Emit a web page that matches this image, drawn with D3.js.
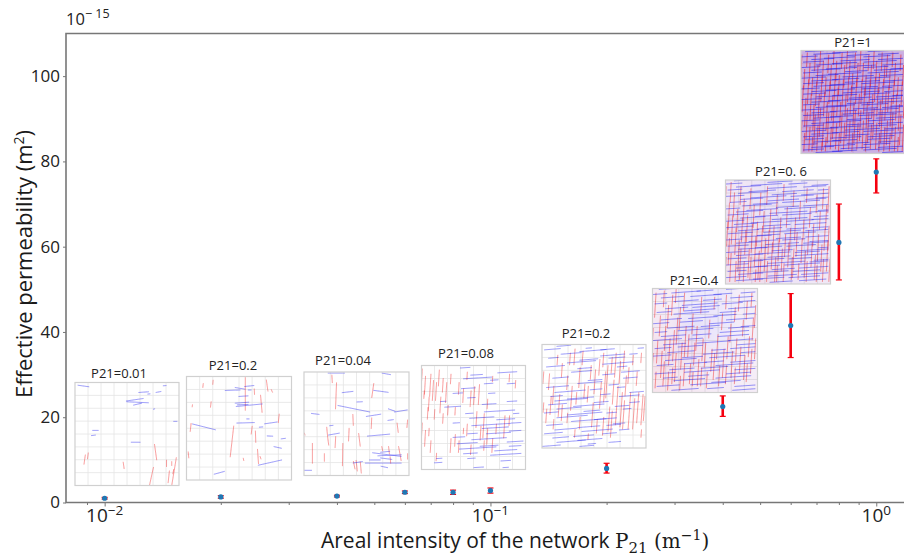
<!DOCTYPE html>
<html>
<head>
<meta charset="utf-8">
<script src="https://cdnjs.cloudflare.com/ajax/libs/d3/7.8.5/d3.min.js"></script>
<style>
  body { margin: 0; background: #fff; }
  svg { display: block; font-family: "Open Sans", "Noto Sans", sans-serif; }
  .spine { stroke: #777; stroke-width: 1.6; fill: none; }
  .axis path { display: none; }
  .axis line { stroke: #777; }
  .axis text { font-size: 17px; fill: #222; font-family: "Open Sans", sans-serif; }
  .title { font-size: 22px; fill: #1a1a1a; }
  .serif { font-family: "DejaVu Serif", serif; }
  .inset-label { font-size: 13px; fill: #222; text-anchor: middle; }
</style>
</head>
<body>
<svg id="chart"></svg>
<script>
// effective permeability, in units of 1e-15 m2
const p21 = [0.01, 0.02, 0.04, 0.06, 0.08, 0.1, 0.2, 0.4, 0.6, 0.8, 1];
const kMean = [1.0, 1.3, 1.5, 2.4, 2.4, 2.8, 8, 22.5, 41.5, 61, 77.5];
const kLow = [0.8, 1.0, 1.3, 2.1, 1.9, 2.2, 6.9, 20.2, 34, 52.2, 72.6];
const kHigh = [1.2, 1.6, 1.7, 2.7, 2.9, 3.4, 9.2, 25, 49, 70, 80.6];

const yTicks = [0, 20, 40, 60, 80, 100];
const xMajor = [0.01, 0.1, 1];
const xMinor = [0.009, 0.02, 0.03, 0.04, 0.05, 0.06, 0.07, 0.08, 0.09, 0.2, 0.3, 0.4, 0.5, 0.6, 0.7, 0.8, 0.9];
const gridTicks = [12.5, 25, 37.5, 50, 62.5, 75, 87.5];

const insetLabels = ["P21=0.01", "P21=0.2", "P21=0.04", "P21=0.08", "P21=0.2", "P21=0.4", "P21=0. 6", "P21=1"];

// sparse networks, read segment by segment: [x1, y1, x2, y2] in inset units 0-100
const blue1 = [[2.5,2.6,13.7,4.2],[61,9.7,71,9],[77.6,9.7,83,8.7],[84.5,3.2,88,3],[69.6,11.3,72.5,11],[49,18,66,15.5],[49.5,18.7,71,19.7],[56,22,64.5,20],[75,26,77,25.5],[94.5,37.7,98.4,37.7],[16.6,46.5,22.7,46.5],[15.4,51.6,20,51],[53.7,58,63,58]];
const red1 = [[10,70,8.6,79.7],[12.8,68,12,74.5],[46.3,77,47.3,84],[76.4,59.7,78.6,75.5],[75.5,82,71.6,100],[88,75,88,82],[93,76.5,93,81],[97.5,72.6,93,100],[90.8,85.5,89.5,97.7],[95,84,94,89]];
const blue2 = [[5.4,45.8,28,51.6],[26,94.5,36.5,91.6],[68,85.8,91,80.6],[83,67.7,90.8,69.4],[89.8,60.3,94.6,59.7],[76.5,57.4,82.5,57.7],[69,49,73,48.7],[74,45.8,86.7,43.9],[47.6,45,65,44.5],[57,41,60,41],[47,29,72.5,26.5],[46,25.8,59.7,24.8],[48,27.4,59,27],[49.5,19.3,59,18.7],[36.5,13.5,51.4,13],[46,10.6,56,12.3],[55,9.7,64.5,8.7],[58.4,13,62,13]];
const red2 = [[56,0.6,56,33],[16,6.5,15.5,11],[25.4,3.2,25,8],[5.7,27,5.4,29.7],[23.5,24,22.8,30],[4.4,45,3.5,53.5],[1.6,72.5,2.2,79],[45,47.5,41.6,78],[54,78.6,54.6,81.6],[62.6,47.7,61.6,56],[65.6,52.3,66,64],[67.6,70,68.6,84.5],[70,77,71,80],[88.3,36,87.4,45],[70.5,17.7,72,35],[76,3,77.6,14.5],[80.6,12.3,82,15.5],[64.5,11.6,64.8,17.7]];
const blue3 = [[22.6,1,39,1],[74,1,82.8,2.6],[36,20,47,18.7],[66,17.7,80.5,19.7],[50,29,56,28.7],[32,32.3,63,38.7],[6.7,40,14.7,41],[59,43,73.5,40.7],[80,35.5,87,38],[86,38.7,98.7,36.6],[79.6,46.8,85.4,46],[23,61,34,59],[60,62,82,60],[0,95,7.6,95],[65,78,93,81.6],[72.6,77.6,82,76.6],[70,81,93,80],[58,88,93,88],[72.6,83,84,84.5],[46.5,88,56,86.5],[62,85,73,85],[24,52,28,51.5],[73,91,80,92.5]];
const red3 = [[26.5,2.6,27,10.7],[31,10,30,36],[66.5,10.7,64.5,25],[46.5,40.7,47,52],[64.5,44,64,55],[21.6,53,22.6,63.5],[22.6,63.5,23.6,71],[30.2,62,29.6,73.5],[43,54,42.4,67],[52,59,53.6,72],[8,68.6,8,88.6],[19.4,78.6,19.4,86.6],[37,68.6,36.6,91],[88.6,49,89.8,58.7],[98.7,46,98,54],[98.7,78.6,98.7,84.5],[80.5,71.6,81.4,79.6],[90,71.6,92.6,86],[49.6,85,50.8,96],[53.6,86.6,54.6,98],[47,86,48.6,94],[0.3,58.7,1,61.3],[74,71.6,75,76.5],[82,81.6,82.6,88.6]];

// dense networks, estimated row by row: [y, x, length, x, length, ...] for blue
// and column by column: [x, y, length, y, length, ...] for red
const blueRows4 = [
  [2.4, 37,10],[7.1, 73,19],[9.3, 47,12],[12.8, 40,28],[14.2, 66,8],[17.6, 82,8, 60,9],[22.3, 38,14],[26.9, 30,10, 64,7],[31.2, 44,8],
  [34.7, 18,6, 82,10],[37.5, 58,14],[40.1, 22,16],[44.6, 60,30],[46.3, 42,8, 88,6],[50.8, 46,24],[52.2, 72,18],[55.4, 30,7, 86,10],[57.9, 48,38],
  [60.6, 58,26],[63.1, 84,12],[65.7, 44,10, 62,24],[69.2, 30,12],[71.4, 48,34],[73.6, 82,16],[75.3, 34,20],[77.7, 56,18, 84,12],[80.4, 36,36],
  [82.1, 70,22],[84.9, 40,14],[86.3, 66,30],[89.5, 14,6, 44,8],[91.8, 76,10],[93.6, 12,8],[98.2, 50,10, 78,6]];
const redCols4 = [
  [0.8, 3,12, 55,14],[2.7, 24,8],[3.9, 10,18, 62,16],[6.3, 40,12],[7.4, 30,14, 60,8],[9.1, 8,22, 72,12],[11.6, 14,20],[12.8, 42,10],[14.5, 16,18, 84,8],
  [17.2, 4,16],[18.6, 30,16],[20.9, 12,14, 46,10],[24.3, 16,20],[25.7, 38,10],[28.4, 8,10, 70,14],[32.6, 40,8, 66,12],[36.2, 16,12, 72,12],
  [40.5, 22,14, 60,6],[44.1, 6,8, 56,12],[47.7, 24,16, 76,10],[51.2, 20,18],[53.3, 44,16],[55.8, 18,20],[57.2, 58,14],[60.4, 46,24, 72,10],
  [63.7, 32,10, 60,16],[68.5, 10,6, 70,14],[72.1, 56,10],[80.3, 48,22],[84.7, 8,8, 48,10],[90.6, 14,8]];

const blueRows5 = [
  [1.8, 14,14],[3.7, 42,6, 92,6],[5.2, 2,16, 56,14],[6.9, 36,26],[9.4, 18,20, 84,8],[11.1, 56,24],[13.3, 6,10, 64,16],[15.2, 36,18],[17.8, 24,28],[19.1, 58,30],
  [21.7, 4,18, 72,10],[23.4, 34,14],[26.8, 28,20, 76,18],[29.3, 58,12],[32.6, 10,16, 78,14],[34.9, 44,14],[37.7, 34,24],[39.2, 64,10],[41.6, 4,22, 72,8],[43.8, 46,12],
  [46.4, 12,30, 84,14],[48.5, 56,10],[50.3, 8,12, 74,20],[52.7, 24,26],[54.6, 12,32],[56.1, 50,14, 84,10],[58.3, 6,18],[59.9, 30,30, 70,14],[62.4, 14,24, 78,8],[64.7, 40,16],
  [66.2, 2,14, 62,10],[68.1, 24,34],[70.8, 14,30],[72.6, 50,22],[74.4, 28,34],[76.7, 68,12],[78.2, 4,16, 62,14],[80.3, 34,22],[82.6, 12,22, 74,10],[84.1, 38,30],
  [86.3, 2,18, 58,14],[88.9, 30,20],[90.4, 10,16],[92.7, 34,24],[94.6, 14,28, 64,12],[96.2, 44,8],[98.5, 0,18, 36,14]];
const redCols5 = [
  [1.7, 26,12, 56,10],[4.6, 62,14],[7.3, 28,16],[8.9, 50,18],[11.4, 40,18, 72,10],[15.2, 10,10],[17.1, 48,22],[19.6, 18,14, 58,16],[24.7, 30,14, 66,10],
  [27.3, 8,12],[29.1, 40,24],[31.8, 4,16, 82,8],[33.4, 46,12],[36.7, 22,20, 70,12],[39.5, 6,14],[41.2, 38,14],[44.6, 40,16, 86,6],[47.4, 20,14],[49.3, 56,24],
  [51.6, 24,24],[53.2, 72,14],[55.7, 14,16],[57.1, 36,26],[59.4, 8,14, 70,18],[61.3, 26,30],[63.5, 20,32],[65.2, 60,24],[67.6, 12,16, 64,26],[69.3, 34,24],
  [71.4, 8,24],[73.2, 40,38],[75.6, 16,22],[77.3, 46,34],[79.4, 6,18, 54,28],[81.2, 30,20],[83.7, 22,16],[85.3, 46,36],[87.8, 10,10],[89.2, 52,30],[91.6, 26,14],[93.1, 46,30],[95.7, 8,10, 82,8],[97.2, 48,30],[99.1, 50,24]];

const blueRows6 = [
  [0.9, 6,18, 70,24],[2.6, 42,16],[4.3, 18,28, 84,14],[5.8, 0,14, 58,18],[7.7, 36,30],[9.1, 8,22, 74,22],[11.4, 48,18],[12.6, 20,24, 82,16],[14.8, 2,12, 66,20],[16.3, 28,34],
  [18.2, 38,26],[19.5, 12,22, 72,26],[21.6, 30,30],[23.1, 4,14, 64,16],[24.7, 20,34, 86,12],[26.4, 58,22],[28.9, 34,28],[30.2, 8,20, 70,26],[32.4, 26,22],[33.9, 0,16, 54,24],
  [36.6, 46,18, 84,14],[38.1, 14,26, 72,20],[40.7, 24,34],[42.3, 2,12, 64,28],[44.8, 38,18],[46.2, 8,24, 62,30],[48.7, 34,14],[50.1, 0,28, 72,24],[52.6, 42,32],[54.2, 10,22, 80,18],
  [56.3, 24,24],[57.8, 2,16, 74,24],[59.4, 56,14],[61.7, 14,26, 84,14],[63.2, 48,30],[65.1, 0,18],[66.6, 28,20, 54,34],[69.3, 12,30],[70.9, 50,18, 74,24],[72.4, 30,22],
  [74.1, 4,16, 60,36],[76.7, 46,26],[78.2, 16,24, 78,20],[80.6, 30,34],[82.1, 2,20, 70,24],[84.4, 34,20],[86.2, 10,14, 60,34],[88.7, 20,30],[90.3, 56,28],[92.6, 36,34],[94.2, 4,22, 78,20],[96.3, 52,16],[97.9, 18,26, 76,22]];
const redCols6 = [
  [0.7, 38,20, 62,24],[3.4, 4,24, 80,16],[5.1, 50,22],[7.6, 26,20],[9.2, 60,26],[11.3, 2,16, 70,24],[12.7, 36,24],[15.4, 16,22, 80,18],[16.8, 48,26],[19.3, 6,20, 76,16],
  [20.9, 40,30],[22.6, 0,14, 62,28],[24.1, 28,26],[26.7, 18,22, 84,14],[28.3, 52,26],[30.6, 4,18, 72,22],[32.1, 36,30],[34.8, 44,22],[36.3, 72,20],[38.7, 24,20, 80,14],
  [40.4, 52,22],[42.6, 36,24],[44.2, 68,26],[46.9, 8,16, 76,18],[48.3, 48,22],[50.7, 52,24],[52.2, 80,16],[54.6, 30,18],[56.8, 58,22],[59.3, 8,12, 62,26],[62.4, 44,24],
  [64.1, 74,20],[66.7, 24,16],[68.2, 58,28],[70.5, 6,14, 74,18],[72.1, 46,22],[74.8, 34,18],[76.3, 60,26],[78.9, 18,14, 76,16],[80.4, 48,22],[82.7, 6,16],[84.2, 56,26],
  [86.6, 30,16],[88.1, 64,24],[90.3, 12,18, 72,18],[92.4, 46,20],[94.7, 4,14, 58,24],[96.2, 28,22],[98.3, 16,22, 48,20]];

const blueRows7 = [
  [0.8, 8,22, 72,24],[2.3, 40,24],[3.9, 0,16, 60,18],[5.2, 24,30, 82,16],[6.8, 10,24, 74,22],[8.1, 40,28],[9.7, 2,14, 88,10],[11.2, 22,26, 54,30],[12.9, 12,28],[14.3, 44,24, 72,26],
  [15.8, 0,18, 62,22],[17.2, 24,34, 86,12],[18.7, 14,22, 76,20],[20.1, 40,30],[21.6, 4,16, 54,36],[23.3, 26,24],[24.9, 16,28, 74,24],[26.4, 48,22],[27.8, 0,14, 56,30],[29.3, 20,30, 88,10],
  [30.8, 10,26, 80,18],[32.1, 42,36],[33.7, 2,20, 54,28],[35.2, 28,22, 84,14],[36.6, 14,24],[38.1, 44,34, 82,16],[39.7, 0,18, 58,26],[41.3, 24,30],[42.8, 8,22, 66,30],[44.2, 36,26],
  [45.9, 0,26, 82,16],[47.2, 30,24, 58,20],[48.8, 12,20, 76,22],[50.3, 36,36],[51.7, 2,24, 56,30],[53.4, 30,22],[54.8, 14,30, 76,22],[56.3, 48,24],[57.7, 0,16, 54,22],[59.2, 22,28, 80,18],
  [60.8, 10,24, 74,24],[62.1, 38,32],[63.7, 2,20, 58,28],[65.2, 28,26, 88,10],[66.6, 12,28],[68.1, 44,20, 68,30],[69.8, 0,22, 66,24],[71.2, 28,34],[72.7, 10,26, 66,32],[74.3, 40,22],
  [75.9, 2,18, 60,22],[77.2, 26,30, 84,14],[78.8, 12,24, 80,18],[80.2, 40,36],[81.8, 0,22, 56,34],[83.3, 28,24],[84.7, 10,30, 70,28],[86.2, 44,22],[87.9, 2,18, 64,26],[89.3, 26,34],
  [90.8, 12,24, 72,26],[92.4, 40,28],[93.9, 0,20, 60,30],[95.3, 26,30],[96.8, 10,26, 70,26],[98.4, 42,22]];
const redCols7 = [
  [0.6, 6,24, 74,22],[2.2, 40,24],[3.8, 22,26, 56,26],[5.4, 2,20, 70,28],[6.9, 34,28],[8.6, 12,24],[10.1, 46,26, 78,20],[11.7, 28,22],[13.2, 58,30],[14.8, 6,18, 66,30],
  [16.3, 36,24],[17.9, 18,24, 78,20],[19.4, 48,24],[21.1, 34,26],[22.7, 66,28],[24.3, 8,20, 74,22],[25.8, 42,28],[27.4, 24,22],[28.9, 54,30, 86,12],[30.6, 40,24],
  [32.2, 68,28],[33.7, 12,22, 76,22],[35.3, 44,26],[36.8, 30,20],[38.4, 56,32],[40.1, 6,18, 78,20],[41.6, 48,24],[43.2, 28,22],[44.8, 60,26],[46.3, 44,26],
  [47.9, 74,24],[49.4, 14,20, 82,16],[51.1, 56,22],[52.7, 36,24],[54.2, 66,22],[55.8, 4,16, 80,18],[57.3, 52,22],[58.9, 26,20],[60.4, 60,24],[62.1, 46,22],
  [63.7, 74,22],[65.2, 10,16, 66,28],[66.8, 36,22],[68.3, 50,24],[69.9, 80,16],[71.4, 20,18],[73.1, 56,24],[74.7, 38,20],[76.2, 68,26],[77.8, 8,14, 78,20],
  [79.3, 48,24],[80.9, 26,20],[82.6, 60,24],[84.1, 42,22],[85.7, 72,24],[87.2, 14,18, 82,16],[88.8, 52,26],[90.3, 30,18],[91.9, 62,26],[93.4, 8,20, 76,22],
  [94.9, 46,22],[96.4, 24,24],[97.6, 58,30],[98.7, 6,26, 44,24],[99.5, 76,22]];

const blueRows8 = [
  [1.1, 4,18, 64,22],[2.4, 30,24],[3.7, 12,26, 74,20],[4.9, 44,22],[6.2, 0,16, 60,26],[7.6, 22,30],[8.8, 10,22, 74,24],[10.1, 38,28],[11.3, 2,20, 60,32],[12.7, 30,24],
  [14.1, 14,26, 78,20],[15.4, 46,26],[16.6, 0,18, 60,24],[17.9, 24,30, 86,12],[19.2, 10,28, 70,28],[20.6, 42,22],[21.8, 2,18, 64,30],[23.1, 26,32],[24.4, 14,22, 76,22],[25.7, 40,30],
  [26.9, 0,24, 62,24],[28.3, 30,26],[29.6, 10,26, 80,18],[30.9, 42,34],[32.2, 2,20, 58,32],[33.4, 28,24],[34.8, 12,30, 78,20],[36.1, 48,26],[37.3, 0,18, 58,30],[38.6, 24,28],
  [39.9, 10,24, 80,18],[41.2, 40,36],[42.4, 2,22, 60,26],[43.8, 30,24, 88,10],[45.1, 14,26, 72,26],[46.3, 46,22],[47.7, 0,20, 66,30],[48.9, 26,34],[50.2, 10,28, 74,24],[51.6, 44,26],
  [52.8, 2,16, 58,26],[54.1, 24,28, 86,12],[55.4, 14,30, 78,20],[56.7, 50,24],[57.9, 0,22, 60,34],[59.3, 28,26],[60.6, 10,24, 74,24],[61.8, 40,30],[63.2, 2,20, 56,36],[64.4, 28,22],
  [65.7, 12,26, 72,26],[67.1, 44,24],[68.3, 0,18, 64,26],[69.6, 24,34],[70.9, 10,28, 74,24],[72.2, 44,26],[73.4, 2,20, 64,28],[74.8, 28,30],[76.1, 14,22, 80,18],[77.3, 42,34],
  [78.6, 0,24, 60,30],[79.9, 30,26],[81.2, 10,26, 70,28],[82.4, 42,24],[83.8, 2,20, 64,26],[85.1, 28,30],[86.3, 4,18, 64,22],[87.6, 30,24],[88.9, 12,26, 74,20],[90.2, 44,22],
  [91.4, 0,16, 60,26],[92.8, 22,30],[94.1, 10,22, 74,24],[95.3, 38,28],[96.6, 2,20, 60,32],[97.9, 30,24],[99.1, 14,26, 78,20]];
const redCols8 = [
  [0.9, 4,22, 68,24],[2.3, 34,26],[3.6, 18,20, 80,18],[4.8, 46,28],[6.1, 2,14, 60,26],[7.4, 28,24],[8.7, 12,22, 74,24],[9.9, 42,26],[11.2, 26,18, 84,14],[12.6, 52,26],
  [13.8, 4,16, 62,30],[15.1, 30,24],[16.4, 14,20, 72,26],[17.7, 42,24],[18.9, 0,16, 56,28],[20.3, 24,26, 88,10],[21.6, 10,22, 70,24],[22.8, 40,24],[24.1, 26,18, 84,14],[25.4, 50,28],
  [26.7, 4,18, 60,30],[27.9, 30,22],[29.2, 14,24, 74,22],[30.6, 44,24],[31.8, 0,14, 54,32],[33.1, 22,26],[34.4, 10,20, 70,26],[35.7, 36,28],[36.9, 24,20, 80,18],[38.3, 50,24],
  [39.6, 2,16, 60,30],[40.8, 28,26],[42.1, 14,22, 70,26],[43.4, 42,22],[44.7, 0,18, 56,30],[45.9, 26,24],[47.2, 10,18, 68,28],[48.6, 34,28],[49.8, 22,22, 80,18],[51.1, 50,24],
  [52.4, 2,16, 58,32],[53.7, 26,26],[54.9, 12,24, 70,26],[56.2, 42,22],[57.6, 0,20, 58,30],[58.8, 28,24],[60.1, 12,18, 68,28],[61.4, 36,26],[62.7, 24,20, 82,16],[63.9, 50,26],
  [65.3, 4,16, 60,30],[66.6, 28,26],[67.8, 14,22, 72,24],[69.1, 42,24],[70.4, 0,18, 56,30],[71.7, 26,24],[72.9, 10,20, 70,26],[74.2, 36,28],[75.6, 22,20, 80,18],[76.8, 48,26],
  [78.1, 2,18, 58,32],[79.4, 28,24],[80.7, 14,20, 74,24],[81.9, 40,28],[83.2, 4,22, 68,24],[84.6, 34,26],[85.8, 18,20, 80,18],[87.1, 46,28],[88.4, 2,14, 60,26],[89.7, 28,24],
  [90.9, 12,22, 74,24],[92.2, 42,26],[93.6, 26,18, 84,14],[94.8, 52,26],[96.1, 4,16, 62,30],[97.4, 30,24],[98.6, 14,20, 72,26],[99.6, 42,24]];

// how strongly each colour shows through, one cell per quarter of the inset
const blueWash6 = [[.2,.45,.5,.3],[.3,.8,.55,.3],[.35,.4,.35,.25],[.2,.25,.25,.25]];
const redWash6 = [[.25,.1,.1,.15],[.35,.2,.1,.15],[.7,.4,.2,.2],[.5,.35,.25,.2]];
const blueWash7 = [[.4,.5,.5,.4],[.5,.7,.8,.5],[.5,.6,.7,.5],[.4,.4,.45,.4]];
const redWash7 = [[.3,.25,.2,.25],[.4,.3,.2,.2],[.5,.55,.3,.2],[.6,.5,.3,.25]];
const blueWash8 = [[1.7,1.7,1.7,1.7],[1.7,1.9,2.1,1.7],[1.7,1.9,1.9,1.7],[1.7,1.7,1.7,1.7]];
const redWash8 = [[1.2,1.2,1.2,1.2],[1.2,1.2,1.1,1.2],[1.4,1.2,1.2,1.2],[1.4,1.2,1.2,1.2]];

const chartSize = { width: 904, height: 555 };
const margin = { left: 66, right: 0, top: 33.5, bottom: 52 };
const width = chartSize.width - margin.left - margin.right;
const height = chartSize.height - margin.top - margin.bottom;

const toSegments = (rows, horizontal, tilt) => {
  const segments = [];
  rows.forEach(([fixed, ...rest]) => {
    d3.range(0, rest.length, 2).forEach(i => {
      const start = rest[i], length = rest[i + 1];
      segments.push(horizontal
        ? [start, fixed, start + length, fixed - length * tilt]
        : [fixed, start, fixed - length * tilt, start + length]);
    });
  });
  return segments;
};

const insets = [
  { box: [75, 382.5, 104, 103], label: [119, 378], blue: blue1, red: red1 },
  { box: [186.5, 376.5, 105, 103.5], label: [233, 370], blue: blue2, red: red2 },
  { box: [304, 372, 105, 103.5], label: [343, 365], blue: blue3, red: red3 },
  { box: [421.5, 365.5, 104, 104], label: [466, 358], blue: toSegments(blueRows4, true, 0.06), red: toSegments(redCols4, false, 0.06) },
  { box: [542, 344.5, 104, 103.5], label: [586, 338], blue: toSegments(blueRows5, true, 0.08), red: toSegments(redCols5, false, 0.07) },
  { box: [652.5, 288.5, 105, 104], label: [694, 285], blue: toSegments(blueRows6, true, 0.07), red: toSegments(redCols6, false, 0.06), blueWash: blueWash6, redWash: redWash6 },
  { box: [725.5, 180, 105, 104], label: [781, 176], blue: toSegments(blueRows7, true, 0.06), red: toSegments(redCols7, false, 0.05), blueWash: blueWash7, redWash: redWash7 },
  { box: [801, 50.5, 104, 103], label: [853, 47], blue: toSegments(blueRows8, true, 0.05), red: toSegments(redCols8, false, 0.05), blueWash: blueWash8, redWash: redWash8 }
];

const svg = d3.select("#chart").attr("width", chartSize.width).attr("height", chartSize.height);

const defs = svg.append("defs");
defs.append("filter").attr("id", "soft").append("feGaussianBlur").attr("stdDeviation", 0.35);
defs.append("filter").attr("id", "wash").append("feGaussianBlur").attr("stdDeviation", 6);

const g = svg.append("g").attr("transform", `translate(${margin.left},${margin.top})`);

const x = d3.scaleLog().domain([0.00794, 1.18]).range([0, width]);
const y = d3.scaleLinear().domain([0, 110]).range([height - 0.5, 0]);

g.append("g").attr("class", "x axis").attr("transform", `translate(0,${height - 0.5})`)
  .call(d3.axisBottom(x).tickValues(xMajor).tickSize(4).tickFormat(""));
g.append("g").attr("class", "x axis minor").attr("transform", `translate(0,${height - 0.5})`)
  .call(d3.axisBottom(x).tickValues(xMinor).tickSize(2.5).tickFormat(""));
g.append("g").attr("class", "y axis").call(d3.axisLeft(y).tickValues(yTicks).tickSize(3).tickPadding(3));

g.selectAll(".x-label").data(xMajor).enter().append("text")
  .attr("class", "x-label")
  .attr("x", d => x(d))
  .attr("y", height + 19)
  .attr("text-anchor", "middle")
  .style("font-size", "19px").style("fill", "#222")
  .each(function (d) {
    const t = d3.select(this);
    t.append("tspan").text("10");
    t.append("tspan").attr("dy", -7).style("font-size", "13.5px")
      .text(d === 1 ? "0" : "\u2212" + Math.abs(Math.log10(d)).toFixed(0));
  });

g.append("path").attr("class", "spine")
  .attr("d", `M${width},0H0V${height - 0.5}H${width}`);

const drawInset = (inset, i) => {
  const [bx, by, bw, bh] = inset.box;
  const sx = d3.scaleLinear().domain([0, 100]).range([bx, bx + bw]);
  const sy = d3.scaleLinear().domain([0, 100]).range([by, by + bh]);
  const clipId = `clip-${i}`;
  defs.append("clipPath").attr("id", clipId).append("rect")
    .attr("x", bx).attr("y", by).attr("width", bw).attr("height", bh);

  svg.append("rect").attr("x", bx).attr("y", by).attr("width", bw).attr("height", bh).attr("fill", "#fff");

  const layer = svg.append("g").attr("clip-path", `url(#${clipId})`).append("g").attr("filter", "url(#soft)");

  layer.selectAll(".grid-v").data(gridTicks).enter().append("line")
    .attr("x1", sx).attr("x2", sx).attr("y1", by).attr("y2", by + bh)
    .attr("stroke", "#e4e4e4").attr("stroke-width", 0.8);
  layer.selectAll(".grid-h").data(gridTicks).enter().append("line")
    .attr("y1", sy).attr("y2", sy).attr("x1", bx).attr("x2", bx + bw)
    .attr("stroke", "#e4e4e4").attr("stroke-width", 0.8);

  const wash = (table, colour) => {
    if (!table) return;
    const cells = layer.append("g").attr("filter", "url(#wash)");
    table.forEach((row, r) => row.forEach((v, c) => {
      cells.append("rect")
        .attr("x", sx(c * 25) - (c === 0 ? 10 : 0)).attr("y", sy(r * 25) - (r === 0 ? 10 : 0))
        .attr("width", sx(25) - sx(0) + (c === 0 || c === 3 ? 10 : 0))
        .attr("height", sy(25) - sy(0) + (r === 0 || r === 3 ? 10 : 0))
        .attr("fill", colour).attr("fill-opacity", v * 0.15);
    }));
  };
  wash(inset.redWash, "#ff2a2a");
  wash(inset.blueWash, "#2a2aff");

  const dense = i >= 5;
  const segs = (data, colour) => layer.append("g").selectAll("line").data(data).enter().append("line")
    .attr("x1", d => sx(d[0])).attr("y1", d => sy(d[1]))
    .attr("x2", d => sx(d[2])).attr("y2", d => sy(d[3]))
    .attr("stroke", colour).attr("stroke-width", i === 7 ? 1 : dense ? 0.8 : 0.9)
    .attr("stroke-opacity", dense ? 0.55 : 0.45);
  segs(inset.red, "#f01818");
  segs(inset.blue, "#1818f0");

  svg.append("rect").attr("x", bx).attr("y", by).attr("width", bw).attr("height", bh)
    .attr("fill", "none").attr("stroke", "#d0d0d0").attr("stroke-width", 1.2);

  svg.append("text").attr("class", "inset-label")
    .attr("x", inset.label[0]).attr("y", inset.label[1]).text(insetLabels[i]);
};
insets.forEach(drawInset);

// error bars and means sit above the insets
const marks = g.append("g");
const bars = marks.selectAll(".bar").data(p21).enter().append("g").attr("class", "bar");
bars.append("line")
  .attr("x1", d => x(d)).attr("x2", d => x(d))
  .attr("y1", (d, i) => y(kLow[i])).attr("y2", (d, i) => y(kHigh[i]))
  .attr("stroke", "#f5000f").attr("stroke-width", 2.6);
[kLow, kHigh].forEach(bound => {
  bars.append("line")
    .attr("x1", d => x(d) - 3).attr("x2", d => x(d) + 3)
    .attr("y1", (d, i) => y(bound[i])).attr("y2", (d, i) => y(bound[i]))
    .attr("stroke", "#f5000f").attr("stroke-width", 1.2);
});
bars.append("circle")
  .attr("cx", d => x(d)).attr("cy", (d, i) => y(kMean[i])).attr("r", 2.6)
  .attr("fill", "#1f77b4");

// axis titles
svg.append("text").attr("class", "title")
  .attr("transform", "translate(32,264) rotate(-90)")
  .attr("text-anchor", "middle")
  .each(function () {
    const t = d3.select(this);
    t.append("tspan").text("Effective permeability (m");
    t.append("tspan").attr("dy", -8).style("font-size", "14px").text("2");
    t.append("tspan").attr("dy", 8).text(")");
  });

svg.append("text").attr("class", "title")
  .attr("x", 321).attr("y", 548).style("font-size", "21px")
  .each(function () {
    const t = d3.select(this);
    t.append("tspan").text("Areal intensity of the network ");
    t.append("tspan").attr("class", "serif").style("font-size", "20px").text("P");
    t.append("tspan").attr("class", "serif").attr("dy", 5).style("font-size", "15px").text("21");
    t.append("tspan").attr("class", "serif").attr("dy", -5).style("font-size", "20px").text(" (m");
    t.append("tspan").attr("class", "serif").attr("dy", -8).style("font-size", "14px").text("\u22121");
    t.append("tspan").attr("class", "serif").attr("dy", 8).style("font-size", "20px").text(")");
  });

// axis offset
svg.append("text").attr("x", 66).attr("y", 25).style("font-size", "16.5px").style("fill", "#222")
  .each(function () {
    const t = d3.select(this);
    t.append("tspan").text("10");
    t.append("tspan").attr("dy", -7).style("font-size", "12.5px").text("\u2212 15");
  });
</script>
</body>
</html>
